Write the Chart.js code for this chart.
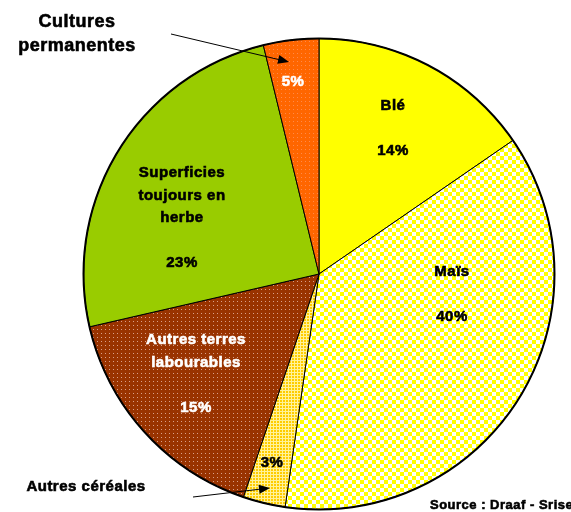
<!DOCTYPE html>
<html>
<head>
<meta charset="utf-8">
<script src="https://cdn.jsdelivr.net/npm/chart.js@4.4.0/dist/chart.umd.min.js"></script>
<style>
  html, body { margin: 0; padding: 0; background: #fff; }
  #wrap { width: 571px; height: 512px; }
</style>
</head>
<body>
<div id="wrap"><canvas id="pieChart" width="571" height="512"></canvas></div>
<script>
// slices clockwise from 12 o'clock
const categories = ['Blé', 'Maïs', 'Autres céréales', 'Autres terres labourables', 'Superficies toujours en herbe', 'Cultures permanentes'];
// share of the circle, as drawn
const shares = [15.4, 36.9, 2.9, 16.2, 24.8, 3.8];
// percentages printed on the chart
const pctLabels = ['14%', '40%', '3%', '15%', '23%', '5%'];

function makePattern(size, draw) {
    const c = document.createElement('canvas');
    c.width = size; c.height = size;
    const g = c.getContext('2d');
    draw(g);
    return document.getElementById('pieChart').getContext('2d').createPattern(c, 'repeat');
}

const checker = makePattern(8, g => {
    g.fillStyle = '#ffffff'; g.fillRect(0, 0, 8, 8);
    g.fillStyle = '#ffff00'; g.fillRect(0, 0, 4, 4); g.fillRect(4, 4, 4, 4);
});
const grid = makePattern(3, g => {
    g.fillStyle = '#ffcc00'; g.fillRect(0, 0, 3, 3);
    g.fillStyle = '#fff29a'; g.fillRect(0, 0, 3, 1); g.fillRect(0, 0, 1, 3);
});
const brownDots = makePattern(4, g => {
    g.fillStyle = '#993300'; g.fillRect(0, 0, 4, 4);
    g.fillStyle = '#d9a08a'; g.fillRect(1, 1, 1, 1);
});
const orangeDots = makePattern(4, g => {
    g.fillStyle = '#ff6600'; g.fillRect(0, 0, 4, 4);
    g.fillStyle = '#ff8a4a'; g.fillRect(1, 1, 1, 1);
});

const fills = ['#ffff00', checker, grid, brownDots, '#99cc00', orangeDots];

const FONT = '"Liberation Sans", Arial, sans-serif';

// heavy bold text like the old bitmap rendering
function boldText(ctx, t, x, y, color) {
    ctx.fillStyle = color;
    ctx.strokeStyle = color;
    ctx.lineWidth = 0.6;
    ctx.fillText(t, x, y);
    ctx.strokeText(t, x, y);
}

function arrow(ctx, x1, y1, x2, y2) {
    const a = Math.atan2(y2 - y1, x2 - x1);
    ctx.beginPath();
    ctx.moveTo(x1, y1);
    ctx.lineTo(x2 - 8 * Math.cos(a), y2 - 8 * Math.sin(a));
    ctx.stroke();
    ctx.beginPath();
    ctx.moveTo(x2, y2);
    ctx.lineTo(x2 - 11 * Math.cos(a) + 4.5 * Math.sin(a), y2 - 11 * Math.sin(a) - 4.5 * Math.cos(a));
    ctx.lineTo(x2 - 11 * Math.cos(a) - 4.5 * Math.sin(a), y2 - 11 * Math.sin(a) + 4.5 * Math.cos(a));
    ctx.closePath();
    ctx.fill();
}

const labelPlugin = {
    id: 'pieLabels',
    afterDatasetsDraw(chart) {
        const ctx = chart.ctx;
        const arc = chart.getDatasetMeta(0).data[0];
        const cx = arc.x, cy = arc.y, r = arc.outerRadius;

        // outer rim
        ctx.save();
        ctx.strokeStyle = '#000';
        ctx.lineWidth = 2;
        ctx.beginPath();
        ctx.arc(cx, cy, r, 0, Math.PI * 2);
        ctx.stroke();

        ctx.textAlign = 'center';
        ctx.textBaseline = 'middle';
        ctx.font = 'bold 15px ' + FONT;
        ctx.letterSpacing = '0.5px';

        // text inside slices, offsets from the pie centre
        const inside = [
            { lines: ['Blé', '', pctLabels[0]], dx: 74, dy: -168, color: '#000' },
            { lines: ['Maïs', '', pctLabels[1]], dx: 133, dy: -2, color: '#000' },
            { lines: [pctLabels[2]], dx: -47, dy: 189, color: '#000' },
            { lines: ['Autres terres', 'labourables', '', pctLabels[3]], dx: -123, dy: 66, color: '#fff' },
            { lines: ['Superficies', 'toujours en', 'herbe', '', pctLabels[4]], dx: -137, dy: -101, color: '#000' },
            { lines: [pctLabels[5]], dx: -26, dy: -192, color: '#fff' }
        ];
        inside.forEach(l => {
            l.lines.forEach((t, i) => {
                if (t) boldText(ctx, t, cx + l.dx, cy + l.dy + i * 22.5, l.color);
            });
        });

        // outside captions
        ctx.font = 'bold 18px ' + FONT;
        boldText(ctx, 'Cultures', 77, 22, '#000');
        boldText(ctx, 'permanentes', 77, 46, '#000');
        ctx.font = 'bold 15px ' + FONT;
        boldText(ctx, categories[2], 86, 487, '#000');
        ctx.textAlign = 'left';
        ctx.font = 'bold 13px ' + FONT;
        ctx.letterSpacing = '0.5px';
        boldText(ctx, 'Source : Draaf - Srise', 430, 505, '#000');

        ctx.letterSpacing = '0px';
        ctx.fillStyle = '#000';
        ctx.strokeStyle = '#000';
        ctx.lineWidth = 1;
        arrow(ctx, 171, 34, 289, 62);
        arrow(ctx, 193, 497, 270, 488);
        ctx.restore();
    }
};

new Chart(document.getElementById('pieChart'), {
    type: 'pie',
    data: {
        labels: categories,
        datasets: [{
            data: shares,
            backgroundColor: fills,
            borderColor: '#000',
            borderWidth: 1,
            hoverOffset: 0
        }]
    },
    options: {
        responsive: false,
        animation: false,
        layout: { padding: { left: 82, right: 15, top: 38, bottom: 2 } },
        plugins: {
            legend: { display: false },
            tooltip: { enabled: false }
        }
    },
    plugins: [labelPlugin]
});
</script>
</body>
</html>
